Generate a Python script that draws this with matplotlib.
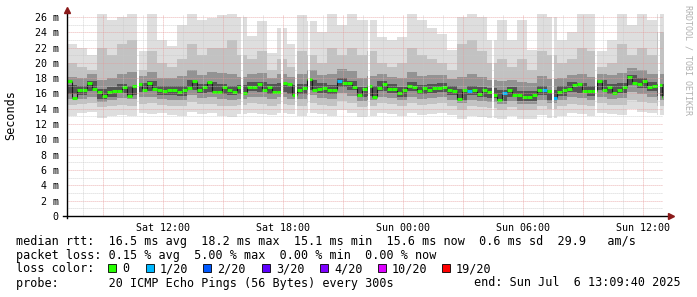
import numpy as np
import pandas as pd
import matplotlib
matplotlib.use("Agg")
import matplotlib.pyplot as plt
import matplotlib.dates as mdates
from matplotlib.collections import LineCollection
from matplotlib.patches import Rectangle

W, H = 697, 297
MONO = "DejaVu Sans Mono"

start = pd.Timestamp("2025-07-05 07:13")
end = pd.Timestamp("2025-07-06 13:01")

# median rtt in ms, one value every 15 min
median_ms = [
    17.6, 15.4, 16.45, 16.45, 17.4, 16.6, 16.2, 15.7, 16.2, 16.3,
    16.3, 16.9, 15.7, 17.0, 17.2, 16.4, 17.4, 16.6, 16.4, 16.3,
    16.4, 16.4, 16.2, 16.5, 16.7, 17.6, 16.4, 16.8, 17.5, 16.2,
    16.2, 16.9, 16.5, 16.2, 16.8, 16.1, 16.9, 16.9, 17.2, 16.5,
    16.9, 16.2, 16.2, 17.4, 17.2, 15.8, 16.4, 16.7, 17.9, 16.5,
    16.6, 16.7, 16.5, 16.5, 17.6, 17.4, 17.3, 16.8, 15.8, 16.6,
    17.0, 15.6, 16.7, 17.2, 16.6, 16.6, 16.0, 16.5, 17.0, 16.8,
    16.3, 16.7, 16.5, 16.7, 16.7, 16.9, 16.5, 16.3, 15.3, 16.4,
    16.3, 16.5, 15.9, 16.5, 16.2, 15.8, 15.1, 16.0, 16.5, 15.8,
    15.8, 15.5, 15.5, 15.8, 16.4, 16.45, 16.3, 15.4, 16.2, 16.5,
    16.6, 17.1, 17.2, 16.3, 16.3, 16.3, 17.6, 16.5, 16.9, 16.1,
    16.5, 16.9, 18.2, 17.4, 17.2, 17.6, 16.8, 17.0, 17.1, 15.6,
]
# lost pings (out of 20) for each median sample
loss_pings = [
    0, 0, 0, 0, 0, 0, 0, 0, 0, 0, 0, 0, 0, 0, 0, 0, 0, 0, 0, 0,
    0, 0, 0, 0, 0, 0, 0, 0, 0, 0, 0, 0, 0, 0, 0, 0, 0, 0, 0, 0,
    0, 0, 0, 0, 0, 0, 0, 0, 0, 0, 0, 0, 0, 0, 1, 0, 0, 0, 0, 0,
    0, 0, 0, 0, 0, 0, 0, 0, 0, 0, 0, 0, 0, 0, 0, 0, 0, 0, 0, 0,
    1, 0, 0, 0, 0, 0, 0, 1, 0, 0, 0, 0, 0, 0, 0, 1, 0, 1, 0, 0,
    0, 0, 0, 0, 0, 0, 0, 0, 0, 0, 0, 0, 0, 0, 0, 0, 0, 0, 0, 0,
]

# smoke: ping distribution, one column every 30 min (ms)
smoke_max = [
    22.5, 22.0, 21.0, 26.5, 25.6, 26.0, 26.5, 21.5, 26.5, 23.0,
    22.2, 25.0, 26.5, 25.6, 25.8, 26.2, 26.5, 26.0, 23.5, 25.5,
    21.3, 24.5, 22.5, 26.3, 25.5, 24.0, 26.5, 25.0, 26.5, 25.6,
    25.6, 23.4, 23.0, 23.4, 26.5, 25.6, 24.5, 23.8, 21.7, 26.0,
    26.5, 26.0, 23.0, 25.6, 23.0, 25.6, 21.7, 26.5, 26.0, 23.0,
    24.0, 26.5, 26.5, 21.5, 23.0, 26.5, 25.0, 26.5, 25.6, 26.5,
]
smoke_p90 = [
    20.0, 19.5, 19.0, 22.0, 21.0, 22.5, 23.0, 19.0, 21.5, 20.0,
    19.5, 20.5, 22.5, 21.0, 22.0, 22.0, 23.0, 21.0, 20.5, 21.5,
    19.0, 20.5, 19.5, 21.5, 21.0, 20.0, 22.0, 21.0, 22.0, 21.0,
    21.5, 20.0, 19.5, 20.0, 22.0, 21.0, 20.5, 20.0, 19.0, 22.5,
    23.0, 21.5, 20.0, 20.5, 19.5, 20.5, 19.0, 21.5, 21.0, 20.0,
    20.5, 22.0, 21.5, 19.5, 20.0, 22.5, 21.0, 22.0, 21.0, 24.0,
]
smoke_p75 = [
    18.2, 18.0, 18.6, 17.8, 18.0, 18.6, 18.8, 18.3, 18.8, 18.0,
    18.0, 18.3, 19.0, 18.4, 18.8, 18.7, 18.5, 18.2, 18.5, 18.7,
    18.0, 18.5, 18.1, 18.6, 19.0, 18.4, 18.5, 19.2, 18.9, 18.0,
    18.3, 18.5, 18.2, 18.0, 18.8, 18.3, 18.4, 18.4, 17.9, 18.2,
    18.5, 18.2, 17.7, 17.6, 17.7, 17.5, 17.3, 18.3, 17.9, 18.0,
    18.4, 18.6, 18.2, 18.6, 18.4, 18.7, 19.3, 19.0, 18.5, 18.5,
]
smoke_p60 = [
    17.1, 17.0, 17.6, 16.6, 16.9, 17.2, 17.0, 17.4, 17.6, 17.0,
    17.0, 17.0, 17.8, 17.2, 17.5, 17.2, 17.0, 17.1, 17.5, 17.5,
    17.2, 17.4, 17.1, 17.2, 17.8, 17.3, 17.1, 18.0, 17.6, 16.9,
    17.0, 17.6, 17.2, 16.9, 17.5, 17.1, 17.2, 17.4, 17.0, 16.6,
    17.0, 16.9, 16.7, 16.4, 16.8, 16.3, 16.3, 17.0, 16.5, 17.0,
    17.5, 17.4, 17.0, 17.7, 17.2, 17.4, 18.4, 18.0, 17.5, 17.2,
]
smoke_p40 = [
    15.9, 15.8, 16.3, 15.3, 15.6, 16.0, 15.8, 16.2, 16.3, 15.8,
    15.8, 15.7, 16.5, 16.0, 16.2, 15.9, 15.8, 15.9, 16.3, 16.2,
    15.9, 16.2, 15.9, 15.9, 16.5, 16.0, 15.9, 16.8, 16.4, 15.6,
    15.7, 16.3, 16.0, 15.6, 16.3, 15.9, 16.0, 16.2, 15.8, 15.2,
    15.8, 15.6, 15.4, 15.0, 15.5, 15.0, 15.0, 15.8, 15.2, 15.7,
    16.2, 16.1, 15.7, 16.4, 15.9, 16.1, 17.1, 16.7, 16.3, 15.7,
]
smoke_p25 = [
    15.3, 15.3, 15.6, 14.9, 15.1, 15.4, 15.3, 15.5, 15.6, 15.3,
    15.2, 15.2, 15.8, 15.4, 15.5, 15.3, 15.2, 15.3, 15.6, 15.5,
    15.3, 15.5, 15.3, 15.3, 15.8, 15.4, 15.3, 16.0, 15.7, 15.0,
    15.1, 15.6, 15.4, 15.1, 15.6, 15.3, 15.4, 15.5, 15.2, 14.7,
    15.2, 15.0, 14.9, 14.6, 15.0, 14.6, 14.6, 15.2, 14.7, 15.1,
    15.5, 15.4, 15.1, 15.6, 15.3, 15.4, 16.2, 15.9, 15.6, 15.2,
]
smoke_p10 = [
    14.5, 14.6, 14.8, 14.2, 14.3, 14.5, 14.4, 14.6, 14.7, 14.5,
    14.4, 14.4, 14.9, 14.6, 14.6, 14.4, 14.3, 14.5, 14.7, 14.6,
    14.4, 14.6, 14.5, 14.4, 14.8, 14.5, 14.4, 15.0, 14.7, 14.2,
    14.3, 14.7, 14.6, 14.3, 14.7, 14.5, 14.6, 14.7, 14.4, 13.9,
    14.4, 14.2, 14.1, 13.9, 14.2, 13.9, 13.9, 14.4, 14.0, 14.3,
    14.6, 14.5, 14.3, 14.7, 14.5, 14.5, 15.1, 14.9, 14.7, 14.4,
]
smoke_min = [
    13.0, 13.4, 13.6, 12.8, 13.0, 13.2, 13.0, 13.5, 13.3, 13.4,
    13.2, 13.1, 13.6, 13.3, 13.4, 13.0, 12.9, 13.3, 13.5, 13.3,
    13.2, 13.4, 13.3, 13.0, 13.5, 13.3, 13.1, 13.8, 13.4, 12.9,
    13.0, 13.5, 13.3, 13.0, 13.4, 13.2, 13.3, 13.4, 13.2, 12.6,
    13.1, 12.9, 12.8, 12.6, 13.0, 12.7, 12.7, 13.2, 12.8, 13.0,
    13.4, 13.3, 13.0, 13.5, 13.3, 13.2, 14.0, 13.6, 13.4, 13.2,
]

# samples with no data
gaps = ["2025-07-05 10:46", "2025-07-05 15:58", "2025-07-05 17:58",
        "2025-07-05 18:40", "2025-07-05 19:19", "2025-07-05 22:19",
        "2025-07-06 04:31", "2025-07-06 07:31", "2025-07-06 09:40",
        "2025-07-06 12:49"]

loss_levels = [0, 1, 2, 3, 4, 10, 19]
loss_labels = ["0", "1/20", "2/20", "3/20", "4/20", "10/20", "19/20"]
loss_colors = ["#26ff00", "#00b8ff", "#0059ff", "#5e00ff", "#7e00ff", "#dd00ff", "#ff0000"]


def px(x, y):
    return x / W, 1 - y / H


fig = plt.figure(figsize=(W / 100, H / 100), dpi=100)
ax = fig.add_axes([67 / W, 81 / H, 596 / W, 202.2 / H])
ax.set_xlim(mdates.date2num(start), mdates.date2num(end))
ax.set_ylim(0, 26.4)

# smoke
t_s = mdates.date2num(pd.date_range(start, periods=len(smoke_max) + 1, freq="30min"))
bands = [(smoke_min, smoke_max, "#dedede"), (smoke_p10, smoke_p90, "#c2c2c2"),
         (smoke_p25, smoke_p75, "#939393"), (smoke_p40, smoke_p60, "#545454")]
for k, (lo, hi, col) in enumerate(bands):
    ax.fill_between(t_s, lo + [lo[-1]], hi + [hi[-1]], step="post",
                    color=col, lw=0, zorder=1 + k)

# median line coloured by loss
t_m = mdates.date2num(pd.date_range(start, periods=len(median_ms) + 1, freq="15min"))
segs, cols = [], []
for i, v in enumerate(median_ms):
    segs.append([(t_m[i], v), (t_m[i + 1], v)])
    cols.append(loss_colors[loss_levels.index(loss_pings[i])])
ax.add_collection(LineCollection(segs, colors=cols, linewidths=2.2, zorder=6))
vsegs = [[(t_m[i + 1], median_ms[i]), (t_m[i + 1], median_ms[i + 1])]
         for i in range(len(median_ms) - 1)]
ax.add_collection(LineCollection(vsegs, colors="#1a1a1a", linewidths=0.8, zorder=5))

# missing samples
for g in gaps:
    gt = pd.Timestamp(g)
    ax.axvspan(mdates.date2num(gt - pd.Timedelta("2min")),
               mdates.date2num(gt + pd.Timedelta("2min")),
               color="white", lw=0, zorder=7)

# grid
for v in range(1, 27):
    major = v % 2 == 0
    ax.axhline(v, color="#e59a9a" if major else "#c8c8c8", lw=0.6,
               ls=(0, (1, 1.4)), zorder=8)
for h in pd.date_range(start.ceil("h"), end, freq="h"):
    major = h.hour % 3 == 0
    ax.axvline(mdates.date2num(h), color="#e59a9a" if major else "#c8c8c8",
               lw=0.6, ls=(0, (1, 1.4)), zorder=8)

for s in ax.spines.values():
    s.set_visible(False)

# axes lines with arrows
ax.plot([-0.006, 1.012], [0, 0], color="black", lw=1.0, transform=ax.transAxes,
        clip_on=False, zorder=9)
ax.plot([0, 0], [-0.012, 1.015], color="black", lw=1.0, transform=ax.transAxes,
        clip_on=False, zorder=9)
ax.plot([1.014], [0], marker=">", ms=4, color="#8b1a1a", transform=ax.transAxes,
        clip_on=False, zorder=10)
ax.plot([0], [1.02], marker="^", ms=4, color="#8b1a1a", transform=ax.transAxes,
        clip_on=False, zorder=10)

ax.set_yticks(range(0, 27, 2))
ax.set_yticklabels(["0"] + [f"{v} m" for v in range(2, 27, 2)])
ax.xaxis.set_major_locator(mdates.HourLocator(byhour=[0, 6, 12, 18]))
ax.xaxis.set_major_formatter(mdates.DateFormatter("%a %H:%M"))
ax.tick_params(axis="both", length=0, labelsize=7.2, colors="black")
ax.tick_params(axis="y", pad=6)
ax.tick_params(axis="x", pad=5)
for lab in ax.get_xticklabels() + ax.get_yticklabels():
    lab.set_fontfamily(MONO)

fig.text(*px(11, 115), "Seconds", rotation=90, ha="center", va="center",
         family=MONO, fontsize=8.5)
fig.text(*px(688, 60), "RRDTOOL / TOBI OETIKER", rotation=270, ha="center",
         va="center", family=MONO, fontsize=6, color="#b0b0b0")

# legend rows
fs = 8.5
fig.text(*px(16, 241), "median rtt:  16.5 ms avg  18.2 ms max  15.1 ms min  "
         "15.6 ms now  0.6 ms sd  29.9   am/s", family=MONO, fontsize=fs, va="center")
fig.text(*px(16, 255), "packet loss: 0.15 % avg  5.00 % max  0.00 % min  0.00 % now",
         family=MONO, fontsize=fs, va="center")
fig.text(*px(16, 269), "loss color:", family=MONO, fontsize=fs, va="center")
sq_x = [108, 146, 203, 262, 320, 378, 442]
for x0, lab, col in zip(sq_x, loss_labels, loss_colors):
    fig.add_artist(Rectangle(px(x0, 272), 7.5 / W, 8 / H, transform=fig.transFigure,
                             facecolor=col, edgecolor="black", lw=0.6))
    fig.text(*px(x0 + 14, 269), lab, family=MONO, fontsize=fs, va="center")
fig.text(*px(16, 283), "probe:       20 ICMP Echo Pings (56 Bytes) every 300s",
         family=MONO, fontsize=fs, va="center")
fig.text(*px(681, 283), "end: Sun Jul  6 13:09:40 2025", family=MONO, fontsize=fs,
         va="center", ha="right")

fig.savefig("out.png", dpi=100, facecolor="white")
